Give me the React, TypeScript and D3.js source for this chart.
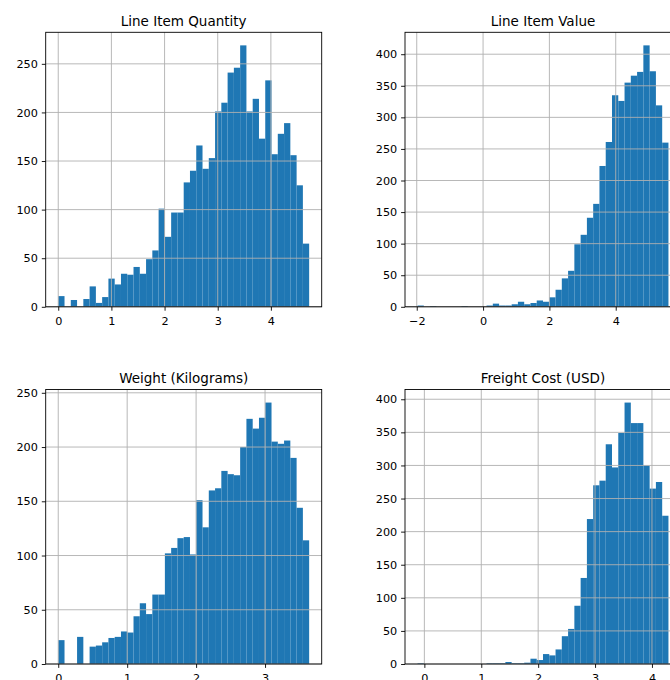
import React, { useEffect, useRef } from "react";
import * as d3 from "d3";

// bin counts (40 bins each)
const qtyCounts = [
  11, 0, 7, 0, 8, 21, 4, 10, 29, 23,
  34, 33, 41, 34, 49, 58, 101, 72, 97, 97,
  128, 140, 166, 142, 153, 201, 210, 241, 246, 269,
  201, 214, 173, 233, 157, 178, 189, 156, 125, 65,
];
const valueCounts = [
  2, 0, 1, 0, 0, 0, 0, 1, 0, 0,
  0, 2, 5, 2, 2, 4, 8, 4, 6, 10,
  8, 15, 27, 45, 57, 99, 114, 141, 163, 223,
  261, 335, 326, 355, 366, 372, 414, 373, 319, 260,
];
const weightCounts = [
  22, 0, 0, 25, 0, 16, 17, 20, 24, 25,
  30, 29, 44, 56, 46, 64, 64, 102, 107, 116,
  117, 101, 151, 126, 160, 162, 178, 175, 174, 200,
  226, 217, 227, 241, 205, 203, 206, 190, 144, 114,
];
const freightCounts = [
  1, 0, 0, 0, 0, 0, 0, 0, 0, 0,
  0, 1, 1, 1, 3, 1, 1, 2, 8, 6,
  15, 13, 22, 42, 53, 88, 130, 219, 270, 277,
  332, 297, 349, 395, 364, 364, 300, 265, 275, 224,
];

// min / max of the binned data
const qtyRange = [0, 4.72];
const valueRange = [-1.976, 5.59];
const weightRange = [0, 3.64];
const freightRange = [-0.12, 4.29];

// tick labels
const qtyXTicks = [0, 1, 2, 3, 4];
const valueXTicks = [-2, 0, 2, 4];
const weightXTicks = [0, 1, 2, 3];
const freightXTicks = [0, 1, 2, 3, 4];
const qtyYTicks = [0, 50, 100, 150, 200, 250];
const valueYTicks = [0, 50, 100, 150, 200, 250, 300, 350, 400];
const weightYTicks = [0, 50, 100, 150, 200, 250];
const freightYTicks = [0, 50, 100, 150, 200, 250, 300, 350, 400];

const titles = ["Line Item Quantity", "Line Item Value", "Weight (Kilograms)", "Freight Cost (USD)"];

const panels = [
  { title: titles[0], counts: qtyCounts, range: qtyRange, xTicks: qtyXTicks, yTicks: qtyYTicks, col: 0, row: 0 },
  { title: titles[1], counts: valueCounts, range: valueRange, xTicks: valueXTicks, yTicks: valueYTicks, col: 1, row: 0 },
  { title: titles[2], counts: weightCounts, range: weightRange, xTicks: weightXTicks, yTicks: weightYTicks, col: 0, row: 1 },
  { title: titles[3], counts: freightCounts, range: freightRange, xTicks: freightXTicks, yTicks: freightYTicks, col: 1, row: 1 },
];

const W = 670;
const H = 680;
const axW = 276;
const axH = 274.5;
const colX = [45.7, 405];
const rowY = [32.3, 389.5];
const font = "DejaVu Sans";

export default function App() {
  const svgRef = useRef<SVGSVGElement>(null);

  useEffect(() => {
    const svg = d3.select(svgRef.current);
    svg.selectAll("*").remove();

    panels.forEach((p) => {
      const g = svg
        .append("g")
        .attr("transform", `translate(${colX[p.col]},${rowY[p.row]})`);

      const [lo, hi] = p.range;
      const span = hi - lo;
      const x = d3
        .scaleLinear()
        .domain([lo - span * 0.05, hi + span * 0.05])
        .range([0, axW]);
      const y = d3
        .scaleLinear()
        .domain([0, (d3.max(p.counts) as number) * 1.05])
        .range([axH, 0]);
      const n = p.counts.length;
      const edges = d3.range(n + 1).map((i) => lo + (span * i) / n);

      // bars
      g.selectAll("rect.bar")
        .data(p.counts)
        .enter()
        .append("rect")
        .attr("class", "bar")
        .attr("x", (_d, i) => x(edges[i]))
        .attr("width", (_d, i) => x(edges[i + 1]) - x(edges[i]))
        .attr("y", (d) => y(d))
        .attr("height", (d) => axH - y(d))
        .attr("fill", "#1f77b4");

      // grid on top of the bars, like pandas hist
      g.selectAll("line.gx")
        .data(p.xTicks)
        .enter()
        .append("line")
        .attr("x1", (d) => x(d))
        .attr("x2", (d) => x(d))
        .attr("y1", 0)
        .attr("y2", axH)
        .attr("stroke", "#b0b0b0")
        .attr("stroke-width", 0.9);
      g.selectAll("line.gy")
        .data(p.yTicks)
        .enter()
        .append("line")
        .attr("x1", 0)
        .attr("x2", axW)
        .attr("y1", (d) => y(d))
        .attr("y2", (d) => y(d))
        .attr("stroke", "#b0b0b0")
        .attr("stroke-width", 0.9);

      // axes
      const xAxis = g
        .append("g")
        .attr("transform", `translate(0,${axH})`)
        .call(
          d3
            .axisBottom(x)
            .tickValues(p.xTicks)
            .tickFormat(d3.format("d") as any)
            .tickSize(3.9)
            .tickSizeOuter(0)
            .tickPadding(6.4)
        );
      const yAxis = g.append("g").call(
        d3
          .axisLeft(y)
          .tickValues(p.yTicks)
          .tickFormat(d3.format("d") as any)
          .tickSize(3.9)
          .tickSizeOuter(0)
          .tickPadding(3.9)
      );
      [xAxis, yAxis].forEach((a) => {
        a.select(".domain").remove();
        a.attr("font-family", font).attr("font-size", 11.25);
        a.selectAll("line").attr("stroke", "#000").attr("stroke-width", 0.9);
        a.selectAll("text").attr("fill", "#000");
      });

      // spines
      g.append("rect")
        .attr("width", axW)
        .attr("height", axH)
        .attr("fill", "none")
        .attr("stroke", "#000")
        .attr("stroke-width", 0.9);

      // title
      g.append("text")
        .attr("x", axW / 2)
        .attr("y", -6.8)
        .attr("text-anchor", "middle")
        .attr("font-family", font)
        .attr("font-size", 13.5)
        .attr("fill", "#000")
        .text(p.title);
    });
  }, []);

  return (
    <svg
      ref={svgRef}
      width={W}
      height={H}
      style={{ position: "absolute", left: 0, top: 0, background: "#fff" }}
    ></svg>
  );
}
